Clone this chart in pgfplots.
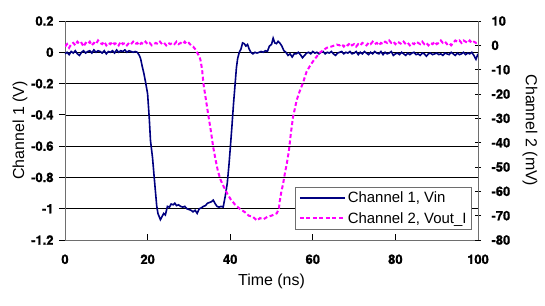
\documentclass[border=0pt]{standalone}
\usepackage{pgfplots}
\pgfplotsset{compat=1.18}
\usepackage{fontspec}
\setmainfont{Liberation Sans}
\newfontfamily\tickfont{TeX Gyre Heros}[BoldFeatures={FakeBold=1.3}]
\newcommand\tl[1]{\mbox{\tickfont\bfseries #1}}
\definecolor{navy}{RGB}{0,0,128}
\definecolor{mag}{RGB}{255,0,255}
\definecolor{axgray}{RGB}{110,110,110}
\begin{document}
\begin{tikzpicture}
\pgfplotsset{
  every axis/.append style={
    scale only axis, width=413bp, height=219bp, xmin=0, xmax=100,
    every tick label/.append style={font=\fontsize{13}{13}\selectfont},
    every axis label/.append style={font=\fontsize{16}{16}\selectfont},
    axis line style={axgray, line width=0.9bp},
    every tick/.style={black, line width=0.8bp},
  }
}
\begin{axis}[at={(0,0)}, anchor=south west,
  axis x line*=bottom, axis y line*=left,
  ymin=-1.2, ymax=0.2,
  ytick={-1.2,-1.0,-0.8,-0.6,-0.4,-0.2,0,0.2},
  yticklabels={\tl{-1.2},\tl{-1},\tl{-0.8},\tl{-0.6},\tl{-0.4},\tl{-0.2},\tl{0},\tl{0.2}},
  xtick={0,20,40,60,80,100},
  xticklabels={\tl{0},\tl{20},\tl{40},\tl{60},\tl{80},\tl{100}},
  tick align=inside, major tick length=6bp,
  ytick style={xshift=-6bp},
  ymajorgrids, major grid style={black, line width=0.6bp},
  yticklabel style={xshift=-8bp},
  xticklabel style={yshift=-11bp},
  xlabel={Time (ns)}, ylabel={Channel 1 (V)},
  xlabel style={at={(axis description cs:0.5,-0.187)}, anchor=center},
  ylabel style={at={(axis description cs:-0.109,0.5)}, anchor=center},
]
\addplot[navy, line width=1.6bp] table {
0 -0.01
0.5 0.00
1 -0.015
1.5 0.005
2 -0.005
2.5 0.01
3 -0.01
3.5 -0.02
4 0.0
4.5 0.01
5 -0.005
5.5 0.005
6 0.01
6.5 -0.005
7 0.015
7.5 0.0
8 0.01
8.5 0.005
9 -0.005
9.5 0.01
10 -0.01
10.5 0.005
11 0.0
11.5 0.01
12 -0.005
12.5 0.015
13 0.0
13.5 0.01
14 0.005
14.5 0.015
15 0.0
15.5 0.01
16 0.005
16.5 0.0
17 0.005
17.5 0.0
18 -0.02
18.3 -0.04
18.7 -0.09
19.1 -0.135
19.5 -0.19
20 -0.265
20.4 -0.42
20.7 -0.565
21.2 -0.675
21.6 -0.8
21.9 -0.89
22.2 -0.98
22.5 -1.03
23.1 -1.07
23.5 -1.05
23.9 -1.03
24.3 -1.04
24.8 -0.985
25.3 -0.99
25.7 -0.97
26.2 -0.975
26.6 -0.965
27.0 -0.98
27.5 -0.975
28.0 -0.985
28.5 -0.99
29.0 -0.985
29.5 -1.0
30.0 -1.005
30.5 -1.01
31.0 -1.02
31.5 -1.01
32.0 -1.03
32.5 -1.0
33.0 -0.995
33.5 -0.985
34.0 -0.98
34.5 -0.965
35.0 -0.96
35.5 -0.955
35.9 -0.945
36.3 -0.965
36.8 -0.985
37.3 -0.99
37.8 -0.985
38.3 -0.99
38.8 -0.92
39.3 -0.835
39.7 -0.72
40.0 -0.62
40.4 -0.48
40.8 -0.33
41.2 -0.2
41.5 -0.1
41.8 -0.04
42.2 0.0
42.6 0.02
43.0 0.06
43.4 0.055
43.8 0.04
44.2 0.05
44.6 0.02
45.0 0.0
45.5 -0.01
46.0 0.0
46.5 -0.005
47.0 0.0
47.5 0.005
48.0 0.0
48.5 0.01
49.0 0.005
49.5 0.04
50.0 0.05
50.4 0.09
50.8 0.06
51.2 0.055
51.6 0.07
52.0 0.06
52.5 0.04
53.0 0.01
53.5 0.0
54.0 -0.02
54.5 -0.01
55.0 -0.03
55.5 -0.01
56.0 -0.01
56.5 0.0
57.0 -0.015
57.5 -0.035
58.0 -0.02
58.5 -0.005
59.0 0.0
59.5 -0.01
60.0 0.005
60.5 -0.005
61.0 0.0
61.5 -0.01
62.0 0.0
62.5 0.005
63.0 -0.01
63.5 0.0
64.0 -0.005
64.5 0.005
65.0 -0.01
65.5 -0.02
66.0 -0.005
66.5 0.0
67.0 0.005
67.5 -0.01
68.0 0.0
68.5 -0.005
69.0 0.005
69.5 -0.01
70.0 -0.005
70.5 0.005
71.0 -0.015
71.5 0.0
72.0 -0.01
72.5 0.005
73.0 -0.005
73.5 -0.015
74.0 0.0
74.5 -0.01
75.0 0.005
75.5 -0.005
76.0 -0.01
76.5 0.005
77.0 -0.015
77.5 0.0
78.0 -0.01
78.5 -0.005
79.0 0.005
79.5 -0.02
80.0 -0.01
80.5 -0.005
81.0 -0.015
81.5 0.0
82.0 -0.01
82.5 -0.02
83.0 -0.005
83.5 -0.015
84.0 -0.005
84.5 0.0
85.0 -0.015
85.5 -0.01
86.0 -0.02
86.5 -0.005
87.0 -0.01
87.5 -0.025
88.0 -0.01
88.5 -0.005
89.0 -0.015
89.5 -0.01
90.0 -0.005
90.5 -0.015
91.0 -0.01
91.5 -0.02
92.0 -0.005
92.5 -0.01
93.0 -0.015
93.5 0.0
94.0 -0.01
94.5 -0.02
95.0 -0.005
95.5 -0.015
96.0 -0.01
96.5 0.0
97.0 -0.015
97.5 -0.005
98.0 -0.01
98.5 0.0
99.0 -0.02
99.5 -0.045
100.0 -0.01
};
\end{axis}
\begin{axis}[at={(0,0)}, anchor=south west,
  axis y line*=right, axis x line=none,
  ymin=-80, ymax=10,
  ytick={-80,-70,-60,-50,-40,-30,-20,-10,0,10},
  yticklabels={\tl{-80},\tl{-70},\tl{-60},\tl{-50},\tl{-40},\tl{-30},\tl{-20},\tl{-10},\tl{0},\tl{10}},
  tick align=center, major tick length=6bp,
  yticklabel style={xshift=7bp},
  ylabel={Channel 2 (mV)},
  ylabel style={at={(axis description cs:1.126,0.5)}, anchor=center, rotate=180},
  legend style={at={(rel axis cs:0.9855,0.046)}, anchor=south east, draw=axgray, line width=0.8bp, fill=white,
    font=\fontsize{15}{15}\selectfont, row sep=4bp, inner xsep=3bp, inner ysep=3bp},
  legend cell align=left,
  legend image code/.code={\draw[#1] (0bp,0bp) -- (45bp,0bp);},
]
\addlegendimage{navy, line width=1.6bp}
\addlegendentry{Channel 1, Vin}
\addplot[mag, line width=2bp, dash pattern=on 4bp off 2.5bp] table {
0 -0.5
0.5 0.5
1 -1
1.5 0.5
2 1
2.5 0
3 1.5
3.5 0.5
4 1
4.5 -0.5
5 1
5.5 0.5
6 1.5
6.5 0
7 1
7.5 0.5
8 2
8.5 1
9 0.5
9.5 1.5
10 0
10.5 1
11 0.5
11.5 1.5
12 0.5
12.5 1
13 0
13.5 1.5
14 0.5
14.5 1
15 0
15.5 1
16 0.5
16.5 1.5
17 0.5
17.5 1
18 0
18.5 1
19 0.5
19.5 1.5
20 0.5
20.5 1
21 0
21.5 0.5
22 1
22.5 0.5
23 1.5
23.5 0.5
24 1
24.5 0
25 1
25.5 0.5
26 1
26.5 0.5
27 1.5
27.5 0.5
28 1
28.5 0.5
29 1.5
29.5 0.5
30 1
30.5 0
31 -0.5
31.5 -1.5
32 -3
32.5 -4.5
32.8 -6
33.2 -10
33.5 -15.5
34 -21
34.7 -28.7
35.3 -35
35.9 -42
36.4 -46.5
37 -51.5
37.6 -55
38.4 -58
39.3 -61
40.2 -63.5
41.2 -65.5
42.4 -67.3
43.5 -68.5
44.5 -70
45.5 -70.5
46.5 -72
47.2 -71
48 -71.5
49 -70.5
50 -70
51.3 -69
51.8 -67
52 -64
52.4 -60
52.8 -57
53.3 -52
53.7 -48.7
54.2 -43.5
54.7 -36
55.2 -29.6
56.1 -22.5
56.8 -19
57.6 -15.5
58.5 -10.8
59.3 -8.5
60 -6.7
61 -4.5
61.7 -3
62.5 -2
63.4 -1
64.5 -0.5
65.8 0.3
66.5 0
67 0.5
67.5 -0.5
68 0.5
68.5 0
69 1
69.5 0
70 0.5
70.5 -0.5
71 0.5
71.5 0
72 1
72.5 0.5
73 0
73.5 1
74 0.5
74.5 1.5
75 0.5
75.5 1
76 0
76.5 1
77 0.5
77.5 1.5
78 1
78.5 2
79 1
79.5 1.5
80 0.5
80.5 1.5
81 1
81.5 0.5
82 1.5
82.5 0.5
83 1
83.5 0
84 1
84.5 0.5
85 1.5
85.5 1
86 0.5
86.5 1.5
87 0.5
87.5 1
88 0
88.5 1
89 0.5
89.5 1.5
90 0.5
90.5 1
91 2
91.5 1
92 1.5
92.5 0.5
93 1
93.5 0
94 1
94.5 2
95 1.5
95.5 2
96 1
96.5 2
97 1.5
97.5 1
98 2
98.5 1
99 1.5
99.5 1
100 1.5
};
\addlegendentry{Channel 2, Vout\_I}
\end{axis}
\pgfresetboundingbox
\path (-65bp,-66bp) rectangle (480bp,240bp);
\end{tikzpicture}
\end{document}
